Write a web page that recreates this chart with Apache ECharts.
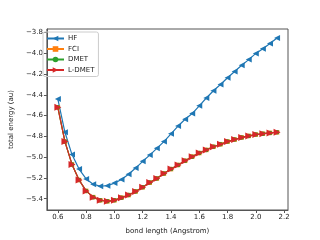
<!DOCTYPE html>
<html><head><meta charset="utf-8">
<script src="https://cdn.jsdelivr.net/npm/echarts@6/dist/echarts.min.js"></script>
<style>html,body{margin:0;padding:0;background:#fff}#c{width:320px;height:240px}</style>
</head><body><div id="c"></div>
<script>
var bondLength = [0.60,0.65,0.70,0.75,0.80,0.85,0.90,0.95,1.00,1.05,1.10,1.15,1.20,1.25,1.30,1.35,1.40,1.45,1.50,1.55,1.60,1.65,1.70,1.75,1.80,1.85,1.90,1.95,2.00,2.05,2.10,2.15];
var hf = [-4.44,-4.76,-4.975,-5.115,-5.21,-5.26,-5.28,-5.275,-5.25,-5.215,-5.165,-5.105,-5.04,-4.98,-4.915,-4.85,-4.775,-4.70,-4.635,-4.58,-4.505,-4.43,-4.36,-4.30,-4.235,-4.175,-4.115,-4.06,-4.00,-3.955,-3.905,-3.852];
var fci = [-4.52,-4.85,-5.07,-5.22,-5.325,-5.385,-5.415,-5.425,-5.415,-5.39,-5.365,-5.33,-5.29,-5.245,-5.205,-5.158,-5.115,-5.075,-5.035,-4.995,-4.96,-4.93,-4.90,-4.875,-4.85,-4.83,-4.81,-4.795,-4.782,-4.774,-4.766,-4.76];
var dmet = [-4.52,-4.85,-5.07,-5.22,-5.325,-5.385,-5.415,-5.425,-5.415,-5.39,-5.365,-5.33,-5.29,-5.245,-5.205,-5.158,-5.115,-5.075,-5.035,-4.995,-4.96,-4.93,-4.90,-4.875,-4.85,-4.83,-4.81,-4.795,-4.782,-4.774,-4.766,-4.76];
var ldmet = [-4.52,-4.85,-5.07,-5.22,-5.325,-5.385,-5.415,-5.425,-5.415,-5.39,-5.365,-5.33,-5.29,-5.245,-5.205,-5.158,-5.115,-5.075,-5.035,-4.995,-4.96,-4.93,-4.90,-4.875,-4.85,-4.83,-4.81,-4.795,-4.782,-4.774,-4.766,-4.76];
var xTicks = [0.6,0.8,1.0,1.2,1.4,1.6,1.8,2.0,2.2];
var yTicks = [-5.4,-5.2,-5.0,-4.8,-4.6,-4.4,-4.2,-4.0,-3.8];

function pairs(ys){ return bondLength.map(function(x,i){ return [x, ys[i]]; }); }
var font = 'DejaVu Sans';
function mk(name, ys, color, symbol, rot, size, z){
  return {name:name, type:'line', data:pairs(ys), symbol:symbol, symbolSize:size, symbolRotate:rot, z:z,
    lineStyle:{color:color, width:1.2}, itemStyle:{color:color}, showSymbol:true, animation:false,
    emphasis:{disabled:true}};
}
var chart = echarts.init(document.getElementById('c'), null, {renderer:'canvas'});
chart.setOption({
  animation:false,
  grid:{left:40, right:32, top:29, bottom:27, show:true, borderColor:'#555', borderWidth:1, backgroundColor:'transparent'},
  legend:{orient:'vertical', left:43, top:32, itemWidth:17, itemHeight:7, itemGap:3.5,
    padding:[3,4,3,3], borderColor:'#ccc', borderWidth:1, borderRadius:2,
    textStyle:{fontFamily:font, fontSize:7, color:'#222', padding:[0,0,0,-1]},
    data:['HF','FCI','DMET','L-DMET']},
  xAxis:{type:'value', min:0.5225, max:2.2275,
    name:'bond length (Angstrom)', nameLocation:'middle', nameGap:18,
    nameTextStyle:{fontFamily:font, fontSize:7, color:'#222'},
    axisLine:{show:true, onZero:false, lineStyle:{color:'#555', width:1}},
    axisTick:{show:true, length:3, lineStyle:{color:'#555'}, customValues:xTicks},
    axisLabel:{fontFamily:font, fontSize:7, color:'#222', margin:4, customValues:xTicks,
      formatter:function(v){ return v.toFixed(1); }},
    splitLine:{show:false}},
  yAxis:{type:'value', min:-5.509, max:-3.765,
    name:'total energy (au)', nameLocation:'middle', nameGap:29,
    nameTextStyle:{fontFamily:font, fontSize:7, color:'#222'},
    axisLine:{show:true, onZero:false, lineStyle:{color:'#555', width:1}},
    axisTick:{show:true, length:3, lineStyle:{color:'#555'}, customValues:yTicks},
    axisLabel:{fontFamily:font, fontSize:7, color:'#222', margin:4, customValues:yTicks,
      formatter:function(v){ return v.toFixed(1).replace('-', '\u2212'); }},
    splitLine:{show:false}},
  series:[
    mk('HF', hf, '#1f77b4', 'triangle', 90, 6, 2),
    mk('FCI', fci, '#ff7f0e', 'rect', 0, 4.5, 3),
    mk('DMET', dmet, '#2ca02c', 'circle', 0, 4.5, 4),
    mk('L-DMET', ldmet, '#d62728', 'triangle', -90, 7, 5)
  ]
});
</script></body></html>
